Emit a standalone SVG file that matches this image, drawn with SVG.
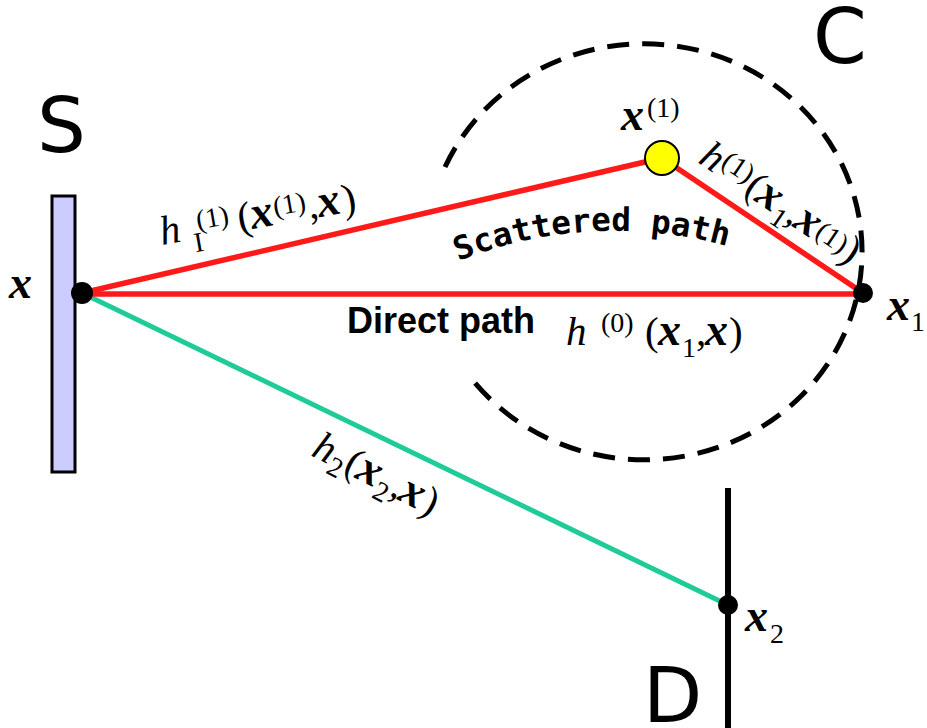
<svg xmlns="http://www.w3.org/2000/svg" width="927" height="728" viewBox="0 0 927 728">
<style>
.big{font-family:"DejaVu Sans","Liberation Sans",sans-serif;font-size:77px;fill:#000}
.m{font-family:"Liberation Serif","Times New Roman",serif;font-size:41px;fill:#000}
.it{font-style:italic}
.bx{font-weight:bold;font-style:italic;font-size:46px}
.s{font-size:28px;font-style:normal;font-weight:normal}
.red{stroke:#ff1a1a;stroke-width:5.5;fill:none}
.dot{fill:#000}
.lbl{font-family:"Liberation Sans",Arial,sans-serif;font-weight:bold;font-size:36px;fill:#000}
.scat{font-family:"DejaVu Sans Mono",monospace;font-weight:bold;font-size:32.5px;fill:#000}
</style>
<defs>
<path id="arc" d="M 440,269 A 420 420 0 0 1 790,269"/>
</defs>
<g id="circleC">
<path d="M 445,167 A 218 208 0 1 1 470,377" fill="none" stroke="#000" stroke-width="5" stroke-dasharray="22 13"/>
</g>
<g id="connectors">
<line x1="82" y1="293" x2="728" y2="605" stroke="#1fcc99" stroke-width="5"/>
<line class="red" x1="82" y1="293" x2="662" y2="158"/>
<line class="red" x1="662" y1="158" x2="863" y2="293"/>
<line class="red" x1="82" y1="294" x2="863" y2="294"/>
</g>
<g id="source">
<rect x="52" y="196" width="23" height="276" fill="#ccccff" stroke="#000" stroke-width="3"/>
<circle class="dot" cx="82" cy="293" r="11"/>
<text class="big" x="37" y="152">S</text>
<text class="m bx" x="9" y="298">x</text>
</g>
<g id="scatterer">
<circle cx="662" cy="158" r="17" fill="#ffff00" stroke="#000" stroke-width="2"/>
<text class="m" x="621" y="130"><tspan class="bx">x</tspan><tspan class="s" x="647" y="117">(1)</tspan></text>
<text class="big" x="813" y="63">C</text>
</g>
<g id="receiver1">
<circle class="dot" cx="863" cy="293" r="10"/>
<text class="m" x="887" y="320"><tspan class="bx">x</tspan><tspan class="s" x="911" y="331">1</tspan></text>
</g>
<g id="receiver2">
<line x1="728" y1="488" x2="728" y2="728" stroke="#000" stroke-width="6"/>
<circle class="dot" cx="728" cy="605" r="10"/>
<text class="m" x="745" y="631"><tspan class="bx">x</tspan><tspan class="s" x="770" y="643">2</tspan></text>
<text class="big" x="643" y="722">D</text>
</g>
<g id="labels">
<text class="lbl" x="347" y="333">Direct path</text>
<text class="m"><tspan class="it" x="566" y="345">h</tspan><tspan class="s" x="601" y="332">(0)</tspan><tspan x="645" y="345">(</tspan><tspan class="bx" x="658">x</tspan><tspan class="s" x="682" y="357">1</tspan><tspan x="696" y="345">,</tspan><tspan class="bx" x="705">x</tspan><tspan x="729">)</tspan></text>
<text class="scat"><textPath href="#arc" startOffset="20">Scattered path</textPath></text>
<g transform="translate(162,245) rotate(-10)">
<text class="m"><tspan class="it" x="0" y="0">h</tspan><tspan class="s" x="32" y="13">I</tspan><tspan class="s" x="38" y="-9">(1)</tspan><tspan x="79" y="0">(</tspan><tspan class="bx" x="92">x</tspan><tspan class="s" x="116" y="-9">(1)</tspan><tspan x="150" y="0">,</tspan><tspan class="bx" x="160">x</tspan><tspan x="185">)</tspan></text>
</g>
<g transform="translate(697,162) rotate(34)">
<text class="m"><tspan class="it" x="0" y="0">h</tspan><tspan class="s" x="21" y="-10">(1)</tspan><tspan x="55" y="0">(</tspan><tspan class="bx" x="68">x</tspan><tspan class="s" x="92" y="10">1</tspan><tspan x="105" y="0">,</tspan><tspan class="bx" x="114">x</tspan><tspan class="s" x="138" y="-4">(1)</tspan><tspan x="171" y="0">)</tspan></text>
</g>
<g transform="translate(310,455) rotate(27)">
<text class="m"><tspan class="it" x="0" y="0">h</tspan><tspan class="s" x="21" y="9">2</tspan><tspan x="36" y="0">(</tspan><tspan class="bx" x="49">x</tspan><tspan class="s" x="73" y="10">2</tspan><tspan x="88" y="0">,</tspan><tspan class="bx" x="97">x</tspan><tspan x="122">)</tspan></text>
</g>
</g>
</svg>
